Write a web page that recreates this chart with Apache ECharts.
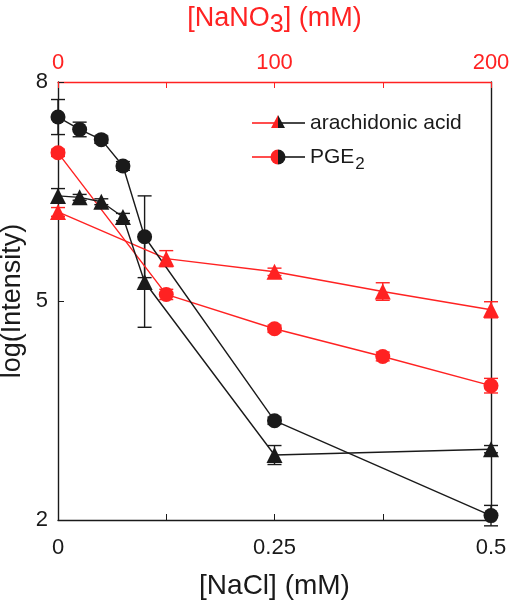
<!DOCTYPE html>
<html><head><meta charset="utf-8">
<script src="https://cdn.jsdelivr.net/npm/echarts@6/dist/echarts.min.js"></script>
<style>html,body{margin:0;padding:0;background:#fff}#c{width:511px;height:600px}</style>
</head><body><div id="c"></div>
<script>
// NaCl concentrations (mM) – black series, bottom axis
var nacl = [0, 0.025, 0.05, 0.075, 0.1, 0.25, 0.5];
var naclPGE2 = [7.52, 7.35, 7.21, 6.85, 5.88, 3.36, 2.06];
var naclPGE2Err = [0.24, 0.10, 0.05, 0.06, 0.56, 0.05, 0.14];
var naclAA = [6.44, 6.42, 6.36, 6.15, 5.26, 2.89, 2.97];
var naclAAErr = [0.10, 0.04, 0.04, 0.05, 0.62, 0.13, 0.05];
// NaNO3 concentrations (mM) – red series, top axis
var nano3 = [0, 50, 100, 150, 200];
var nano3PGE2 = [7.03, 5.09, 4.62, 4.24, 3.84];
var nano3PGE2Err = [0.05, 0.07, 0.05, 0.06, 0.10];
var nano3AA = [6.22, 5.58, 5.40, 5.13, 4.88];
var nano3AAErr = [0.06, 0.11, 0.05, 0.12, 0.11];
// tick labels
var naclLabels = ['0', '0.25', '0.5'];
var nano3Labels = ['0', '100', '200'];
var yLabels = ['2', '5', '8'];

var RED = '#ff2222', BLACK = '#1a1a1a', FONT = 'Liberation Sans, Arial, sans-serif';

function pairs(xs, ys, es) { return xs.map(function (x, i) { return es ? [x, ys[i], es[i]] : [x, ys[i]]; }); }

function errSeries(xs, ys, es, color, axisIdx) {
  return {
    type: 'custom', xAxisIndex: axisIdx, yAxisIndex: 0, clip: false, z: 2,
    data: pairs(xs, ys, es),
    renderItem: function (params, api) {
      var x = api.value(0), y = api.value(1), e = api.value(2);
      var hi = api.coord([x, y + e]), lo = api.coord([x, y - e]);
      var w = 7, st = { stroke: color, lineWidth: 1.4 };
      return { type: 'group', children: [
        { type: 'line', shape: { x1: hi[0], y1: hi[1], x2: lo[0], y2: lo[1] }, style: st },
        { type: 'line', shape: { x1: hi[0] - w, y1: hi[1], x2: hi[0] + w, y2: hi[1] }, style: st },
        { type: 'line', shape: { x1: lo[0] - w, y1: lo[1], x2: lo[0] + w, y2: lo[1] }, style: st }
      ] };
    }
  };
}
function lineSeries(name, xs, ys, color, symbol, axisIdx) {
  return {
    name: name, type: 'line', xAxisIndex: axisIdx, yAxisIndex: 0, z: 3,
    data: pairs(xs, ys), symbol: symbol, symbolSize: symbol === 'circle' ? 15 : 16,
    showSymbol: true, animation: false, clip: false,
    itemStyle: { color: color, borderWidth: 0 },
    lineStyle: { color: color, width: 1.4 }
  };
}

var chart = echarts.init(document.getElementById('c'));
var legendItems = [];
function legendEntry(y, kind, text) {
  var cx = 278;
  legendItems.push({ type: 'line', shape: { x1: 252, y1: y, x2: cx, y2: y }, style: { stroke: RED, lineWidth: 1.6 } });
  legendItems.push({ type: 'line', shape: { x1: cx, y1: y, x2: 305, y2: y }, style: { stroke: BLACK, lineWidth: 1.6 } });
  if (kind === 'tri') {
    legendItems.push({ type: 'polygon', shape: { points: [[cx - 7, y + 5], [cx, y - 8], [cx, y + 5]] }, style: { fill: RED } });
    legendItems.push({ type: 'polygon', shape: { points: [[cx, y + 5], [cx, y - 8], [cx + 7, y + 5]] }, style: { fill: BLACK } });
  } else {
    legendItems.push({ type: 'sector', shape: { cx: cx, cy: y, r: 7.5, startAngle: Math.PI / 2, endAngle: Math.PI * 1.5 }, style: { fill: RED } });
    legendItems.push({ type: 'sector', shape: { cx: cx, cy: y, r: 7.5, startAngle: -Math.PI / 2, endAngle: Math.PI / 2 }, style: { fill: BLACK } });
  }
  legendItems.push({ type: 'text', x: 310, y: y, style: { text: text, font: '21px ' + FONT, fill: BLACK, verticalAlign: 'middle',
    rich: { sub: { fontSize: 17, fontFamily: FONT, fill: BLACK, padding: [14, 0, 0, 1] } } } });
}
legendEntry(123, 'tri', 'arachidonic acid');
legendEntry(157, 'circ', 'PGE{sub|2}');

chart.setOption({
  animation: false,
  backgroundColor: '#fff',
  grid: { left: 58, right: 20, top: 82, bottom: 80, containLabel: false, outerBoundsMode: 'none' },
  xAxis: [
    { type: 'value', position: 'bottom', min: 0, max: 0.5, interval: 0.125,
      name: '[NaCl] (mM)', nameLocation: 'middle', nameGap: 52, nameMoveOverlap: false,
      nameTextStyle: { fontSize: 28, color: BLACK, fontFamily: FONT },
      axisLine: { show: true, onZero: false, lineStyle: { color: BLACK, width: 1.4 } },
      axisTick: { show: true, inside: true, length: 6, lineStyle: { color: BLACK } },
      splitLine: { show: false },
      axisLabel: { fontSize: 22, color: BLACK, fontFamily: FONT, margin: 17,
        formatter: function (v) { var i = naclLabels.indexOf(String(v)); return i >= 0 ? naclLabels[i] : ''; } } },
    { type: 'value', position: 'top', min: 0, max: 200, interval: 50,
      name: '[NaNO{sub|3}] (mM)', nameLocation: 'middle', nameGap: 44, nameMoveOverlap: false,
      nameTextStyle: { fontSize: 27, color: RED, fontFamily: FONT,
        rich: { sub: { fontSize: 25, color: RED, fontFamily: FONT, padding: [14, 0, 0, 0] } } },
      axisLine: { show: true, onZero: false, lineStyle: { color: RED, width: 1.4 } },
      axisTick: { show: true, inside: true, length: 6, lineStyle: { color: RED } },
      splitLine: { show: false },
      axisLabel: { fontSize: 22, color: RED, fontFamily: FONT, margin: 8,
        formatter: function (v) { var i = nano3Labels.indexOf(String(v)); return i >= 0 ? nano3Labels[i] : ''; } } }
  ],
  yAxis: [
    { type: 'value', position: 'left', min: 2, max: 8, interval: 3,
      name: 'log(Intensity)', nameLocation: 'middle', nameGap: 32, nameRotate: 90, nameMoveOverlap: false,
      nameTextStyle: { fontSize: 27, color: BLACK, fontFamily: FONT },
      axisLine: { show: true, onZero: false, lineStyle: { color: BLACK, width: 1.4 } },
      axisTick: { show: true, inside: true, length: 6, lineStyle: { color: BLACK } },
      splitLine: { show: false },
      axisLabel: { fontSize: 22, color: BLACK, fontFamily: FONT, margin: 10,
        formatter: function (v) { var i = yLabels.indexOf(String(v)); return i >= 0 ? yLabels[i] : ''; } } },
    { type: 'value', position: 'right', min: 2, max: 8, interval: 3,
      axisLine: { show: true, onZero: false, lineStyle: { color: BLACK, width: 1.4 } },
      axisTick: { show: false }, axisLabel: { show: false }, splitLine: { show: false } }
  ],
  series: [
    errSeries(nano3, nano3AA, nano3AAErr, RED, 1),
    errSeries(nano3, nano3PGE2, nano3PGE2Err, RED, 1),
    lineSeries('AA NaNO3', nano3, nano3AA, RED, 'triangle', 1),
    lineSeries('PGE2 NaNO3', nano3, nano3PGE2, RED, 'circle', 1),
    errSeries(nacl, naclAA, naclAAErr, BLACK, 0),
    errSeries(nacl, naclPGE2, naclPGE2Err, BLACK, 0),
    lineSeries('AA NaCl', nacl, naclAA, BLACK, 'triangle', 0),
    lineSeries('PGE2 NaCl', nacl, naclPGE2, BLACK, 'circle', 0)
  ],
  graphic: legendItems
});
</script></body></html>
